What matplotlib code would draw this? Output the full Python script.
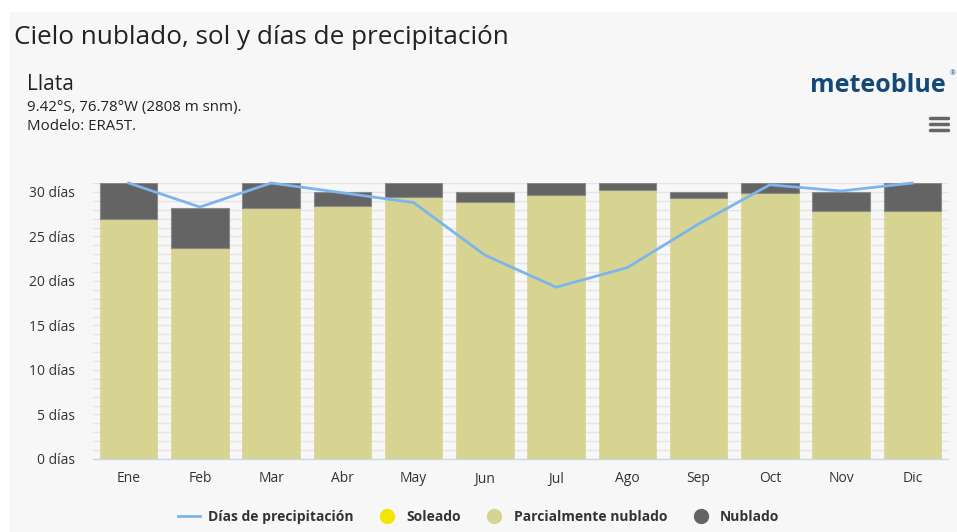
import matplotlib
matplotlib.use("Agg")
import matplotlib.pyplot as plt
from matplotlib.patches import Rectangle
from matplotlib.lines import Line2D
import numpy as np

plt.rcParams['font.family'] = ['Open Sans', 'DejaVu Sans']

months = ["Ene", "Feb", "Mar", "Abr", "May", "Jun", "Jul", "Ago", "Sep", "Oct", "Nov", "Dic"]
sunny = [0, 0, 0, 0, 0, 0, 0, 0, 0, 0, 0, 0]
partly_cloudy = [27.0, 23.7, 28.2, 28.4, 29.4, 28.9, 29.7, 30.2, 29.3, 29.9, 27.8, 27.8]
overcast = [4.0, 4.5, 2.8, 1.6, 1.6, 1.1, 1.3, 0.8, 0.7, 1.1, 2.2, 3.2]
precip_days = [31.0, 28.3, 31.0, 29.9, 28.8, 22.9, 19.3, 21.5, 26.4, 30.8, 30.1, 31.0]
y_ticks = [0, 5, 10, 15, 20, 25, 30]

BG = "#f7f7f7"
C_PARTLY = "#d7d492"
C_OVER = "#646464"
C_SUN = "#f4e500"
C_LINE = "#7cb5ec"

W, H = 957, 532
fig = plt.figure(figsize=(W / 100, H / 100), dpi=100, facecolor="white")
fig.patches.append(Rectangle((10 / W, 0), 1 - 10 / W, 1 - 12 / H, transform=fig.transFigure,
                             facecolor=BG, edgecolor="none", zorder=-10))

ax = fig.add_axes([93 / W, 73 / H, (948 - 93) / W, (459 - 183) / H])
ax.set_facecolor(BG)

x = np.arange(len(months))
bw = 0.81
ax.bar(x, sunny, width=bw, color=C_SUN, zorder=3)
ax.bar(x, partly_cloudy, width=bw, bottom=sunny, color=C_PARTLY, edgecolor=C_PARTLY,
       linewidth=0.5, zorder=3)
bottom2 = np.array(sunny) + np.array(partly_cloudy)
ax.bar(x, overcast, width=bw, bottom=bottom2, color=C_OVER, edgecolor="#8a8a8a",
       linewidth=0.8, zorder=3)
ax.plot(x, precip_days, color=C_LINE, linewidth=2, zorder=4, clip_on=False,
        solid_joinstyle="miter")

ax.set_xlim(-0.5, len(months) - 0.5)
ax.set_ylim(0, 31)
ax.set_yticks(y_ticks)
ax.set_yticklabels([f"{v} días" for v in y_ticks], fontsize=10, color="#333333")
ax.set_yticks(np.arange(0, 32, 1), minor=True)
ax.set_xticks(x)
ax.set_xticklabels(months, fontsize=10, color="#333333")
ax.tick_params(axis="y", which="both", length=0, pad=13)
ax.tick_params(axis="x", length=0, pad=9)
ax.grid(axis="y", which="both", color="#e4e4e4", linewidth=1, zorder=0)
ax.set_axisbelow(True)
for s in ["top", "right", "left"]:
    ax.spines[s].set_visible(False)
ax.spines["bottom"].set_color("#ccd6eb")
ax.spines["bottom"].set_linewidth(1)

# Headings
fig.text(14 / W, 1 - 37 / H, "Cielo nublado, sol y días de precipitación", fontsize=18.8,
         color="#222222", va="center", ha="left")
fig.text(27 / W, 1 - 84 / H, "Llata", fontsize=15, color="#222222", va="center", ha="left")
fig.text(27 / W, 1 - 108 / H, "9.42°S, 76.78°W (2808 m snm).", fontsize=10.8, color="#222222",
         va="center", ha="left")
fig.text(27 / W, 1 - 127 / H, "Modelo: ERA5T.", fontsize=10.8, color="#222222",
         va="center", ha="left")

# Brand mark and menu icon
fig.text(946 / W, 1 - 86 / H, "meteoblue", fontsize=18, color="#154a78", fontweight="bold",
         va="center", ha="right")
fig.text(950 / W, 1 - 74 / H, "®", fontsize=5, color="#154a78", va="center", ha="left")
for yy in (118, 124, 130):
    fig.add_artist(Line2D([930 / W, 948 / W], [1 - yy / H, 1 - yy / H], color="#666666",
                          linewidth=2.5, solid_capstyle="round", transform=fig.transFigure))

# Legend
handles = [
    Line2D([], [], color=C_LINE, linewidth=2),
    Line2D([], [], marker="o", linestyle="none", markersize=10, markerfacecolor=C_SUN,
           markeredgecolor=C_SUN),
    Line2D([], [], marker="o", linestyle="none", markersize=10, markerfacecolor=C_PARTLY,
           markeredgecolor=C_PARTLY),
    Line2D([], [], marker="o", linestyle="none", markersize=10, markerfacecolor=C_OVER,
           markeredgecolor=C_OVER),
]
labels = ["Días de precipitación", "Soleado", "Parcialmente nublado", "Nublado"]
leg = fig.legend(handles, labels, loc="center", bbox_to_anchor=(0.5, 1 - 517 / H), ncol=4,
                 frameon=False, handlelength=1.6, handletextpad=0.6,
                 columnspacing=1.6, prop={"weight": "bold", "size": 10})
for t in leg.get_texts():
    t.set_color("#333333")

fig.savefig("out.png", dpi=100, facecolor="white")
